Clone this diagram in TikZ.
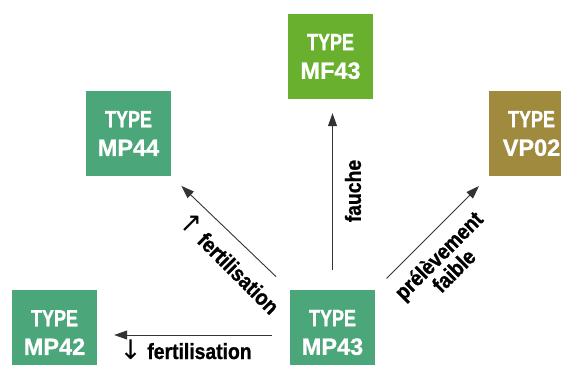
\documentclass[tikz,border=0pt]{standalone}
\usepackage{fontspec}
\setmainfont{Liberation Sans}
\newfontfamily\typeA[FakeStretch=0.765,FakeBold=1]{Liberation Sans}
\newfontfamily\typeB[FakeStretch=1.0,FakeBold=1]{Liberation Sans}
\newfontfamily\labfont[FakeStretch=0.88,FakeBold=1]{Liberation Sans}
\newfontfamily\arrfont{DejaVu Sans}
\newcommand{\myarr}[1]{{\arrfont\mdseries\fontsize{27}{27}\selectfont #1}}
\usetikzlibrary{arrows.meta}
\definecolor{cMF}{HTML}{69B02F}
\definecolor{cMP}{HTML}{4BA67A}
\definecolor{cVP}{HTML}{A08A3E}
\begin{document}
\begin{tikzpicture}[x=1pt,y=-1pt,
  box/.style={minimum width=85pt, minimum height=85pt, inner sep=0pt, text=white, align=center,
    font=\fontsize{23.5}{28.6}\selectfont\bfseries},
  con/.style={-{Triangle[length=13pt,width=9pt]}, line width=0.9pt, draw=black!80},
  lbl/.style={font=\labfont\bfseries\fontsize{22}{21.5}\selectfont, inner sep=0pt}]
\clip (0,0) rectangle (561,364);
\node[box, fill=cMF] (MF43) at (330.5,56.5) {{\typeA TYPE}\\{\typeB MF43}};
\node[box, fill=cMP] (MP44) at (128.5,133.5) {{\typeA TYPE}\\{\typeB MP44}};
\node[box, fill=cVP] (VP02) at (531.5,133.5) {{\typeA TYPE}\\{\typeB VP02}};
\node[box, fill=cMP] (MP42) at (54.5,332.5) {{\typeA TYPE}\\{\typeB MP42}};
\node[box, fill=cMP] (MP43) at (332.5,332.5) {{\typeA TYPE}\\{\typeB MP43}};
\draw[con, shorten <=20pt, shorten >=14pt] (MP43.north) -- (MP43.north |- MF43.south);
\draw[con, shorten <=18pt, shorten >=17pt] ([yshift=-2.5pt]MP43.west) -- ([yshift=-2.5pt]MP43.west -| MP42.east);
\draw[con, shorten <=19pt, shorten >=14pt] (MP43.north west) -- (MP44.south east);
\draw[con, shorten <=16pt, shorten >=14pt] (MP43.north east) -- (VP02.south west);
\node[lbl, rotate=90] (Lfauche) at (353,191) {fauche};
\node[lbl, anchor=base] (Lfertb) at (185.5,359) {\myarr{↓} fertilisation};
\node[lbl, rotate=-45] (Lferta) at (230,262) {\myarr{↑} fertilisation};
\node[lbl, rotate=45, align=center] (Lprel) at (446,263) {prélèvement\\faible};
\end{tikzpicture}
\end{document}
